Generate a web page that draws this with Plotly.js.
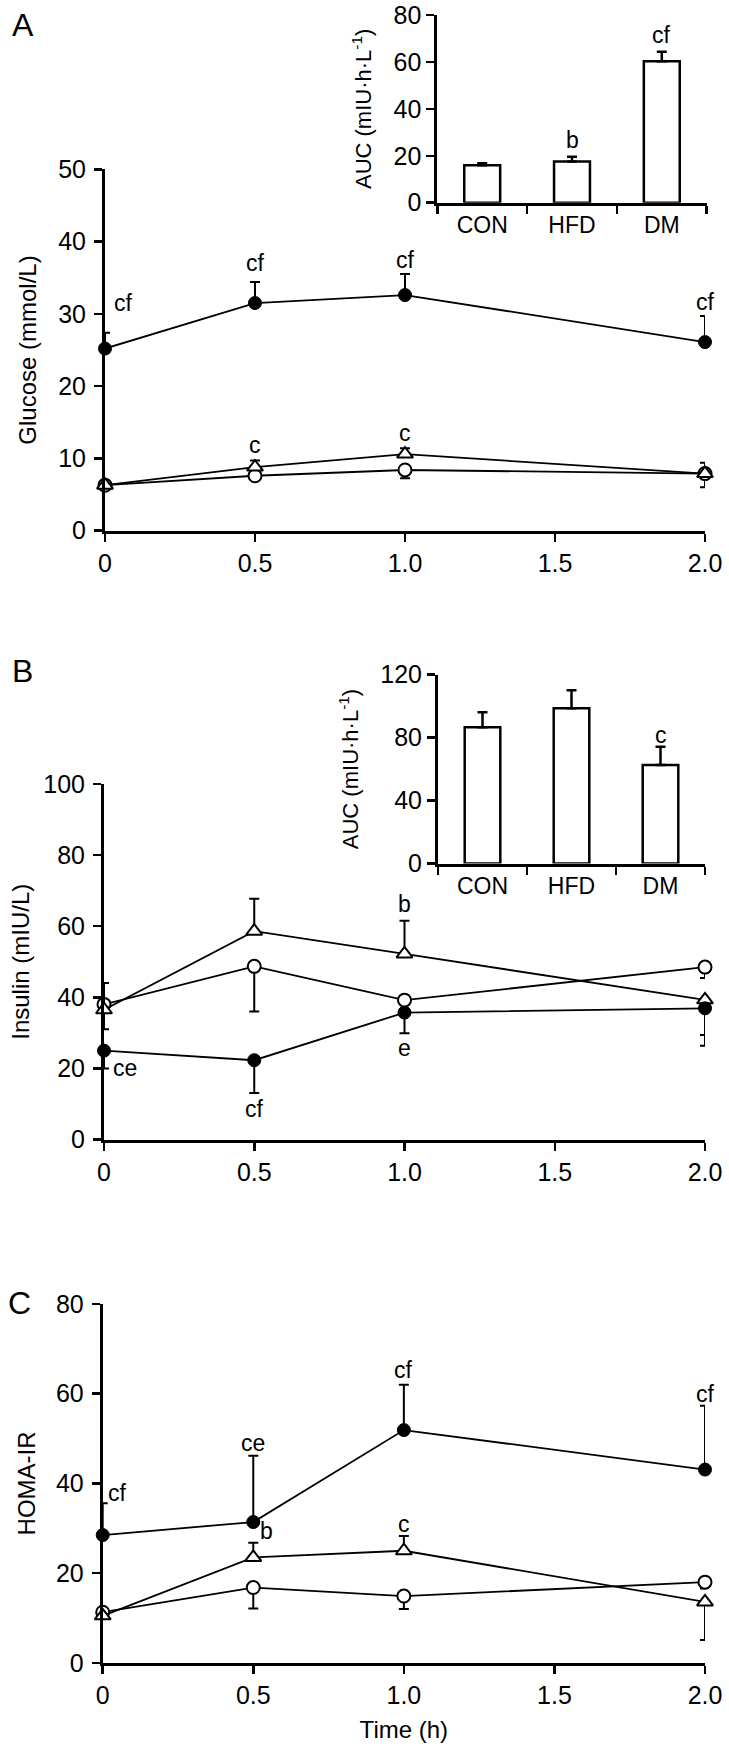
<!DOCTYPE html>
<html>
<head>
<meta charset="utf-8">
<script src="https://cdn.plot.ly/plotly-3.0.1.min.js"></script>
<style>
  html, body { margin: 0; padding: 0; background: #ffffff; }
  #chart { width: 729px; height: 1749px; }
</style>
</head>
<body>
<div id="chart"></div>
<script>
// ---------------- data ----------------
const time = [0, 0.5, 1.0, 2.0];
const timeTickVals = [0, 0.5, 1.0, 1.5, 2.0];
const timeTickText = ['0', '0.5', '1.0', '1.5', '2.0'];
const groups = ['CON', 'HFD', 'DM'];

// Panel A: glucose (mmol/L)
const glucoseCON = [6.3, 7.6, 8.4, 7.9];
const glucoseCONerrMinus = [0, 0.6, 1.15, 1.9];
const glucoseHFD = [6.3, 8.8, 10.6, 7.9];
const glucoseHFDerrPlus = [0, 0.9, 0.8, 1.5];
const glucoseDM = [25.2, 31.5, 32.6, 26.1];
const glucoseDMerrPlus = [2.2, 2.9, 2.9, 3.6];
const glucoseAUC = [16.0, 17.6, 60.3];
const glucoseAUCerr = [0.8, 2.0, 4.0];
const glucoseSigText = ['cf', 'cf', 'cf', 'cf', 'c', 'c'];
const glucoseSigX = [0.06, 0.5, 1.0, 2.0, 0.5, 1.0];
const glucoseSigY = [31.5, 37.0, 37.4, 31.7, 11.9, 13.5];
const glucoseAUCSigText = ['b', 'cf'];
const glucoseAUCSigGroup = ['HFD', 'DM'];
const glucoseAUCSigY = [26.8, 71.6];

// Panel B: insulin (mIU/L)
const insulinCON = [38.0, 48.7, 39.2, 48.5];
const insulinCONerrMinus = [7.0, 12.7, 0, 3.1];
const insulinHFD = [36.5, 58.6, 52.2, 39.3];
const insulinHFDerrPlus = [7.5, 9.1, 9.3, 0];
const insulinHFDerrMinus = [0, 0, 0, 9.9];
const insulinDM = [25.0, 22.3, 35.7, 36.9];
const insulinDMerrMinus = [5.0, 9.2, 5.8, 10.5];
const insulinAUC = [86.5, 98.5, 62.5];
const insulinAUCerr = [9.5, 11.5, 11.7];
const insulinSigText = ['ce', 'cf', 'b', 'e'];
const insulinSigX = [0.07, 0.5, 1.0, 1.0];
const insulinSigY = [20.0, 8.6, 66.3, 25.8];
const insulinAUCSigText = ['c'];
const insulinAUCSigGroup = ['DM'];
const insulinAUCSigY = [81.6];

// Panel C: HOMA-IR
const homaCON = [11.3, 16.8, 14.9, 18.0];
const homaCONerrMinus = [0, 4.7, 2.9, 1.4];
const homaHFD = [10.5, 23.5, 25.0, 13.6];
const homaHFDerrPlus = [0, 3.3, 3.3, 0];
const homaHFDerrMinus = [0, 0, 0, 8.5];
const homaDM = [28.5, 31.4, 51.9, 43.1];
const homaDMerrPlus = [7.1, 14.8, 10.1, 14.2];
const homaSigText = ['cf', 'ce', 'b', 'c', 'cf', 'cf'];
const homaSigX = [0.05, 0.5, 0.545, 1.0, 1.0, 2.0];
const homaSigY = [37.8, 49.0, 29.3, 31.0, 65.3, 60.0];

// ---------------- helpers ----------------
const FONT = 'Liberation Sans, Arial, sans-serif';
const zeros = n => new Array(n).fill(0);

const markerStyles = {
  CON: { symbol: 'circle', size: 13, color: '#ffffff', line: { color: '#000', width: 2 } },
  HFD: { symbol: 'triangle-up', size: 14, color: '#ffffff', line: { color: '#000', width: 2 } },
  DM:  { symbol: 'circle', size: 13, color: '#000000', line: { color: '#000', width: 1 } }
};

function lineTrace(name, xa, ya, y, plus, minus) {
  return {
    type: 'scatter', mode: 'lines+markers', name: name,
    x: time, y: y, xaxis: xa, yaxis: ya,
    line: { color: '#000', width: 1.8 },
    marker: markerStyles[name],
    cliponaxis: false,
    error_y: {
      type: 'data', symmetric: false,
      array: plus || zeros(y.length),
      arrayminus: minus || zeros(y.length),
      color: '#000', thickness: 2, width: 5
    },
    showlegend: false
  };
}

function barTrace(xa, ya, y, err) {
  return {
    type: 'bar', x: groups, y: y, xaxis: xa, yaxis: ya,
    marker: { color: '#ffffff', line: { color: '#000', width: 2.5 } },
    error_y: {
      type: 'data', symmetric: false, array: err, arrayminus: zeros(err.length),
      color: '#000', thickness: 2.5, width: 5
    },
    cliponaxis: false,
    showlegend: false
  };
}

function sigAnnotations(texts, xs, ys, xref, yref) {
  return texts.map((t, i) => ({
    text: t, x: xs[i], y: ys[i], xref: xref, yref: yref,
    showarrow: false, xanchor: 'center', yanchor: 'middle',
    font: { family: FONT, size: 23, color: '#000' }
  }));
}

const W = 729, H = 1749;
const dx = (a, b) => [a / W, b / W];
const dy = (top, bottom) => [1 - bottom / H, 1 - top / H];

function timeAxis(domain, anchor, title) {
  const ax = {
    domain: domain, anchor: anchor, range: [0, 2],
    tickvals: timeTickVals, ticktext: timeTickText,
    showline: true, linewidth: 3, linecolor: '#000',
    ticks: 'outside', ticklen: 8, tickwidth: 2.5, tickcolor: '#000',
    showgrid: false, zeroline: false, fixedrange: true,
    tickfont: { family: FONT, size: 25, color: '#000' }
  };
  if (title) ax.title = { text: title, font: { family: FONT, size: 24, color: '#000' }, standoff: 14 };
  return ax;
}

function valueAxis(domain, anchor, max, dtick, title, standoff) {
  return {
    domain: domain, anchor: anchor, range: [0, max], tick0: 0, dtick: dtick,
    showline: true, linewidth: 3, linecolor: '#000',
    ticks: 'outside', ticklen: 8, tickwidth: 2.5, tickcolor: '#000',
    ticklabelstandoff: 3,
    showgrid: false, zeroline: false, fixedrange: true,
    tickfont: { family: FONT, size: 25, color: '#000' },
    title: { text: title, font: { family: FONT, size: 24, color: '#000' }, standoff: standoff }
  };
}

function insetXAxis(domain, anchor) {
  return {
    domain: domain, anchor: anchor, type: 'category', range: [-0.5, 2.5],
    tickson: 'boundaries',
    showline: true, linewidth: 3, linecolor: '#000',
    ticks: 'outside', ticklen: 8, tickwidth: 2.5, tickcolor: '#000',
    showgrid: false, zeroline: false, fixedrange: true,
    tickfont: { family: FONT, size: 23, color: '#000' }
  };
}

function insetYAxis(domain, anchor, max, dtick, standoff) {
  return {
    domain: domain, anchor: anchor, range: [0, max], tick0: 0, dtick: dtick,
    showline: true, linewidth: 3, linecolor: '#000',
    ticks: 'outside', ticklen: 8, tickwidth: 2.5, tickcolor: '#000',
    showgrid: false, zeroline: false, fixedrange: true,
    tickfont: { family: FONT, size: 25, color: '#000' },
    title: { text: 'AUC (mIU·h·L<sup>-1</sup>)', font: { family: FONT, size: 22, color: '#000' }, standoff: standoff }
  };
}

// ---------------- traces ----------------
const data = [
  // Panel A
  lineTrace('CON', 'x', 'y', glucoseCON, null, glucoseCONerrMinus),
  lineTrace('HFD', 'x', 'y', glucoseHFD, glucoseHFDerrPlus, null),
  lineTrace('DM', 'x', 'y', glucoseDM, glucoseDMerrPlus, null),
  barTrace('x2', 'y2', glucoseAUC, glucoseAUCerr),
  // Panel B
  lineTrace('CON', 'x3', 'y3', insulinCON, null, insulinCONerrMinus),
  lineTrace('HFD', 'x3', 'y3', insulinHFD, insulinHFDerrPlus, insulinHFDerrMinus),
  lineTrace('DM', 'x3', 'y3', insulinDM, null, insulinDMerrMinus),
  barTrace('x4', 'y4', insulinAUC, insulinAUCerr),
  // Panel C
  lineTrace('CON', 'x5', 'y5', homaCON, null, homaCONerrMinus),
  lineTrace('HFD', 'x5', 'y5', homaHFD, homaHFDerrPlus, homaHFDerrMinus),
  lineTrace('DM', 'x5', 'y5', homaDM, homaDMerrPlus, null)
];

// ---------------- annotations ----------------
const panelLetters = [
  { text: 'A', x: 23 / W, y: 1 - 25 / H },
  { text: 'B', x: 23 / W, y: 1 - 671 / H },
  { text: 'C', x: 19 / W, y: 1 - 1303 / H }
].map(a => Object.assign(a, {
  xref: 'paper', yref: 'paper', showarrow: false, xanchor: 'center', yanchor: 'middle',
  font: { family: FONT, size: 32, color: '#000' }
}));

const annotations = [].concat(
  panelLetters,
  sigAnnotations(glucoseSigText, glucoseSigX, glucoseSigY, 'x', 'y'),
  sigAnnotations(glucoseAUCSigText, glucoseAUCSigGroup, glucoseAUCSigY, 'x2', 'y2'),
  sigAnnotations(insulinSigText, insulinSigX, insulinSigY, 'x3', 'y3'),
  sigAnnotations(insulinAUCSigText, insulinAUCSigGroup, insulinAUCSigY, 'x4', 'y4'),
  sigAnnotations(homaSigText, homaSigX, homaSigY, 'x5', 'y5')
);

// ---------------- layout ----------------
const layout = {
  width: W, height: H,
  margin: { l: 0, r: 0, t: 0, b: 0, pad: 0 },
  paper_bgcolor: '#ffffff', plot_bgcolor: 'rgba(0,0,0,0)',
  showlegend: false,
  bargap: 0.6,
  font: { family: FONT, color: '#000' },
  xaxis:  timeAxis(dx(105, 705), 'y'),
  yaxis:  valueAxis(dy(169.3, 530.7), 'x', 50, 10, 'Glucose (mmol/L)', 15),
  xaxis2: insetXAxis(dx(437.3, 706.7), 'y2'),
  yaxis2: insetYAxis(dy(15, 202.7), 'x2', 80, 20, 16),
  xaxis3: timeAxis(dx(104, 705), 'y3'),
  yaxis3: valueAxis(dy(784, 1139.5), 'x3', 100, 20, 'Insulin (mIU/L)', 7),
  xaxis4: insetXAxis(dx(438, 705), 'y4'),
  yaxis4: insetYAxis(dy(674.5, 863.5), 'x4', 120, 40, 16),
  xaxis5: timeAxis(dx(102.7, 705), 'y5', 'Time (h)'),
  yaxis5: valueAxis(dy(1304, 1662.9), 'x5', 80, 20, 'HOMA-IR', 14),
  annotations: annotations
};

Plotly.newPlot('chart', data, layout, { staticPlot: true, displayModeBar: false });
</script>
</body>
</html>
